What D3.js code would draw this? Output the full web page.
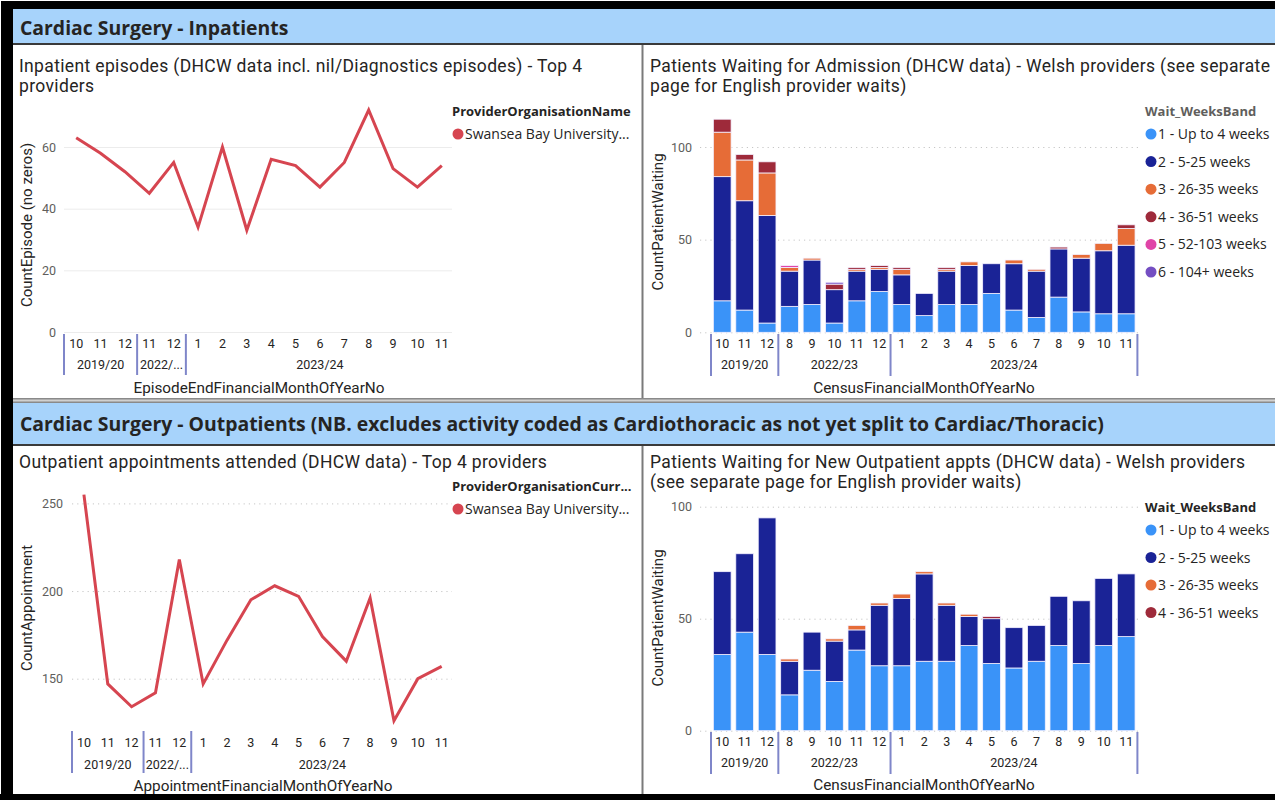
<!DOCTYPE html>
<html><head><meta charset="utf-8">
<script src="https://cdn.jsdelivr.net/npm/d3@7"></script>
<style>body{margin:0;background:#fff} svg{display:block}</style>
</head><body><svg id="c" width="1275" height="800"></svg>
<script>
// ---------------- DATA ----------------
const lineMonths = ["10","11","12","11","12","1","2","3","4","5","6","7","8","9","10","11"];
const lineYearsTop = ["2019/20","2022/...","2023/24"];
const lineYearCounts = [3,2,11];
const inpatientEpisodes = [63,58,52,45,55,34,60,33,56,54,47,55,72,53,47,54];
const outpatientAppts = [255,147,134,142,218,147,172,195,203,197,174,160,196,126,150,157];

const barMonths = ["10","11","12","8","9","10","11","12","1","2","3","4","5","6","7","8","9","10","11"];
const barYears = ["2019/20","2022/23","2023/24"];
const barYearCounts = [3,5,11];

const bandNames = ["1 - Up to 4 weeks","2 - 5-25 weeks","3 - 26-35 weeks","4 - 36-51 weeks","5 - 52-103 weeks","6 - 104+ weeks"];
const bandColors = ["#3a93f8","#1a2396","#e66c37","#9e2a3a","#e044a7","#744ec2"];

// Patients waiting for admission
const admUpTo4 = [17,12,5,14,15,5,17,22,15,9,15,15,21,12,8,19,11,10,10];
const adm5to25 = [67,59,58,19,24,18,16,12,16,12,18,21,16,25,25,26,29,34,37];
const adm26to35 = [24,22,23,2,1,0,1,1,3,0,1,2,0,2,1,0,2,4,9];
const adm36to51 = [7,3,6,0,0,3,1,1,1,0,1,0,0,0,0,1,0,0,2];
const adm52to103 = [0,0,0,1,0,0,0,0,0,0,0,0,0,0,0,0,0,0,0];
const adm104plus = [0,0,0,0,0,1,0,0,0,0,0,0,0,0,0,0,0,0,0];

// Patients waiting for new outpatient appts
const opUpTo4 = [34,44,34,16,27,22,36,29,29,31,31,38,30,28,31,38,30,38,42];
const op5to25 = [37,35,61,15,17,18,9,27,30,39,25,13,20,18,16,22,28,30,28];
const op26to35 = [0,0,0,1,0,1,2,1,2,1,1,1,0,0,0,0,0,0,0];
const op36to51 = [0,0,0,0,0,0,0,0,0,0,0,0,1,0,0,0,0,0,0];

// ---------------- DRAW ----------------
const svg = d3.select("#c");
const TITLE_FONT = "Roboto, 'Liberation Sans', sans-serif";
const UI_FONT = "'Open Sans', 'Noto Sans', sans-serif";
const LINE_COLOR = "#d64550";
const SEP_COLOR = "#7f86c9";

// frame
svg.append("rect").attr("x",0).attr("y",0).attr("width",1275).attr("height",800).attr("fill","#fff");
svg.append("rect").attr("x",1).attr("y",1).attr("width",1274).attr("height",8).attr("fill","#000");
svg.append("rect").attr("x",1).attr("y",1).attr("width",12).attr("height",799).attr("fill","#000");
svg.append("rect").attr("x",0).attr("y",794).attr("width",1275).attr("height",6).attr("fill","#000");

// headers
function header(y0, y1, text, dy){
  svg.append("rect").attr("x",13).attr("y",y0).attr("width",1262).attr("height",y1-y0).attr("fill","#a7d3fb");
  svg.append("rect").attr("x",13).attr("y",y1).attr("width",1262).attr("height",2).attr("fill","#3a3a3a");
  svg.append("text").attr("x",20).attr("y",(y0+y1)/2+dy).attr("font-family",UI_FONT)
     .attr("font-weight",700).attr("font-size",19.4).attr("fill","#252423").text(text);
}
svg.append("rect").attr("x",13).attr("y",398).attr("width",1262).attr("height",5).attr("fill","#8a8a8a");
svg.append("rect").attr("x",13).attr("y",399.5).attr("width",1262).attr("height",2).attr("fill","#d0d0d0");
header(9, 43, "Cardiac Surgery - Inpatients", 9);
header(403, 444, "Cardiac Surgery - Outpatients (NB. excludes activity coded as Cardiothoracic as not yet split to Cardiac/Thoracic)", 7.5);

// vertical dividers
svg.append("rect").attr("x",641.5).attr("y",45).attr("width",2).attr("height",353).attr("fill","#7a7a7a");
svg.append("rect").attr("x",641.5).attr("y",446).attr("width",2).attr("height",348).attr("fill","#7a7a7a");

function panelTitle(x, y, lines){
  lines.forEach((l,i)=>{
    svg.append("text").attr("x",x).attr("y",y+i*20).attr("font-family",TITLE_FONT)
      .attr("font-size",17.5).attr("letter-spacing",0.35).attr("fill","#252423").text(l);
  });
}
panelTitle(19, 72, ["Inpatient episodes (DHCW data incl. nil/Diagnostics episodes) - Top 4","providers"]);
panelTitle(650, 72, ["Patients Waiting for Admission (DHCW data) - Welsh providers (see separate","page for English provider waits)"]);
panelTitle(19, 468, ["Outpatient appointments attended (DHCW data) - Top 4 providers"]);
panelTitle(650, 468, ["Patients Waiting for New Outpatient appts (DHCW data) - Welsh providers","(see separate page for English provider waits)"]);

function legend(x, y, title, titleColor, names, colors, step){
  const g = svg.append("g");
  g.append("text").attr("x",x).attr("y",y+5).attr("font-family",UI_FONT).attr("font-weight",700)
    .attr("font-size",13).attr("fill",titleColor).text(title);
  names.forEach((n,i)=>{
    const cy = y + 23 + i*step;
    g.append("circle").attr("cx",x+6).attr("cy",cy).attr("r",5.5).attr("fill",colors[i]);
    g.append("text").attr("x",x+13).attr("y",cy+5).attr("font-family",UI_FONT)
      .attr("font-size",14).attr("fill","#252423").text(n);
  });
}

function xAxis(x, months, years, counts, opts){
  const g = svg.append("g");
  const ax = g.append("g").attr("transform",`translate(0,${opts.axisY})`)
    .call(d3.axisBottom(x).tickSize(0).tickPadding(opts.monthPad).tickFormat(i=>months[i]));
  ax.select(".domain").remove();
  ax.selectAll("text").attr("font-family",TITLE_FONT).attr("font-size",12.5).attr("fill","#252423");
  const step = x.step();
  let start = 0;
  const seps = [];
  years.forEach((yl,k)=>{
    const x0 = x(start) - (step - x.bandwidth())/2;
    const x1 = x(start+counts[k]-1) + x.bandwidth() + (step - x.bandwidth())/2;
    seps.push(x0);
    g.append("text").attr("x",(x0+x1)/2).attr("y",opts.yearY).attr("text-anchor","middle")
      .attr("font-family",TITLE_FONT).attr("font-size",12.5).attr("fill","#252423").text(yl);
    start += counts[k];
    if (k===years.length-1 && opts.endSep) seps.push(x1);
  });
  seps.forEach(s=>{
    g.append("line").attr("x1",s).attr("x2",s).attr("y1",opts.sepY0).attr("y2",opts.sepY1)
      .attr("stroke",SEP_COLOR).attr("stroke-width",2);
  });
  g.append("text").attr("x",opts.titleX).attr("y",opts.titleY).attr("text-anchor","middle")
    .attr("font-family",TITLE_FONT).attr("font-size",15.3).attr("fill","#252423").text(opts.title);
}

function yAxis(y, ticks, opts){
  const g = svg.append("g").attr("transform",`translate(${opts.labelX},0)`);
  g.call(d3.axisLeft(y).tickValues(ticks).tickSize(0).tickPadding(0));
  g.select(".domain").remove();
  g.selectAll("text").attr("font-family",TITLE_FONT).attr("font-size",12.5).attr("fill","#605e5c");
  const grid = svg.append("g").attr("transform",`translate(${opts.gridX0},0)`);
  grid.call(d3.axisLeft(y).tickValues(ticks).tickSize(-(opts.gridX1-opts.gridX0)).tickFormat(""));
  grid.select(".domain").remove();
  grid.selectAll("line").attr("stroke", opts.dotted ? "#c6c6c6" : "#ececec")
    .attr("stroke-dasharray", opts.dotted ? "1.2,4" : null).attr("stroke-width",1);
  svg.append("text").attr("transform",`translate(${opts.titleX},${opts.titleY}) rotate(-90)`)
    .attr("text-anchor","middle").attr("font-family",TITLE_FONT).attr("font-size",15)
    .attr("fill","#252423").text(opts.title);
}

// ---- line charts ----
function lineChart(values, cfg){
  const x = d3.scaleBand().domain(d3.range(values.length)).range(cfg.xRange).padding(0);
  const y = d3.scaleLinear().domain(cfg.yDomain).range(cfg.yRange);
  yAxis(y, cfg.ticks, cfg.yOpts);
  xAxis(x, lineMonths, lineYearsTop, lineYearCounts, cfg.xOpts);
  svg.append("path").datum(values)
    .attr("d", d3.line().x((d,i)=>x(i)+x.bandwidth()/2).y(d=>y(d)))
    .attr("fill","none").attr("stroke",LINE_COLOR).attr("stroke-width",3).attr("stroke-linejoin","miter");
}

lineChart(inpatientEpisodes, {
  xRange:[64,454], yDomain:[0,75], yRange:[332,332-75*3.083], ticks:[0,20,40,60],
  yOpts:{labelX:56, gridX0:64, gridX1:452, dotted:false, titleX:32, titleY:225, title:"CountEpisode (no zeros)"},
  xOpts:{axisY:339, monthPad:0, yearY:369, sepY0:334, sepY1:375, endSep:false, titleX:259, titleY:393, title:"EpisodeEndFinancialMonthOfYearNo"}
});
lineChart(outpatientAppts, {
  xRange:[72,453.6], yDomain:[124,256], yRange:[678.7+26*1.753, 678.7-106*1.753], ticks:[150,200,250],
  yOpts:{labelX:63, gridX0:72, gridX1:452, dotted:true, titleX:32, titleY:608, title:"CountAppointment"},
  xOpts:{axisY:738, monthPad:0, yearY:769, sepY0:731, sepY1:773, endSep:false, titleX:263, titleY:791, title:"AppointmentFinancialMonthOfYearNo"}
});
legend(452, 111, "ProviderOrganisationName", "#252423", ["Swansea Bay University..."], [LINE_COLOR], 0);
legend(452, 486, "ProviderOrganisationCurr...", "#252423", ["Swansea Bay University..."], [LINE_COLOR], 0);

// ---- stacked bar charts ----
function barChart(series, cfg){
  const n = series[0].length;
  const x = d3.scaleBand().domain(d3.range(n)).range([711,1137.4]).paddingInner(0.21).paddingOuter(0.105);
  const y = d3.scaleLinear().domain(cfg.yDomain).range(cfg.yRange);
  yAxis(y, cfg.ticks, cfg.yOpts);
  xAxis(x, barMonths, barYears, barYearCounts, cfg.xOpts);
  const rows = d3.range(n).map(i=>{ const r={i}; series.forEach((s,k)=>r[k]=s[i]); return r; });
  const stack = d3.stack().keys(d3.range(series.length))(rows);
  const g = svg.append("g");
  stack.forEach((layer,k)=>{
    g.selectAll(null).data(layer.filter(d=>d[1]-d[0]>0)).enter().append("rect")
      .attr("x",d=>x(d.data.i)).attr("width",x.bandwidth())
      .attr("y",d=>y(d[1])).attr("height",d=>y(d[0])-y(d[1]))
      .attr("fill",bandColors[k]).attr("stroke","#f4f0ff").attr("stroke-width",0.8);
  });
}

barChart([admUpTo4, adm5to25, adm26to35, adm36to51, adm52to103, adm104plus], {
  yDomain:[0,120], yRange:[332.3, 332.3-120*1.853], ticks:[0,50,100],
  yOpts:{labelX:692, gridX0:700, gridX1:1138, dotted:true, titleX:663, titleY:222, title:"CountPatientWaiting"},
  xOpts:{axisY:339, monthPad:0, yearY:369, sepY0:334, sepY1:376, endSep:true, titleX:924, titleY:393, title:"CensusFinancialMonthOfYearNo"}
});
barChart([opUpTo4, op5to25, op26to35, op36to51], {
  yDomain:[0,100], yRange:[730.7, 506.7], ticks:[0,50,100],
  yOpts:{labelX:692, gridX0:700, gridX1:1138, dotted:true, titleX:663, titleY:618, title:"CountPatientWaiting"},
  xOpts:{axisY:737, monthPad:0, yearY:767, sepY0:732, sepY1:774, endSep:true, titleX:924, titleY:790, title:"CensusFinancialMonthOfYearNo"}
});
legend(1145, 111, "Wait_WeeksBand", "#605e5c", bandNames, bandColors, 27.6);
legend(1145, 507, "Wait_WeeksBand", "#252423", bandNames.slice(0,4), bandColors.slice(0,4), 27.5);
</script></body></html>
